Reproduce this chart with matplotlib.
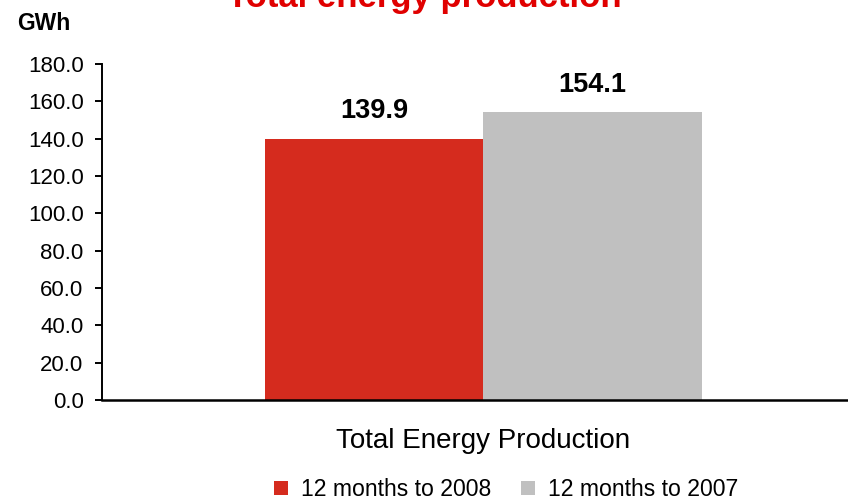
import matplotlib
matplotlib.use("Agg")
import matplotlib.pyplot as plt
import numpy as np

plt.rcParams['font.family'] = ['Liberation Sans', 'DejaVu Sans']

categories = ["Total Energy Production"]
series_names = ["12 months to 2008", "12 months to 2007"]
values_2008 = [139.9]
values_2007 = [154.1]
yticks = [0, 20, 40, 60, 80, 100, 120, 140, 160, 180]
colors = ["#D52B1E", "#C0C0C0"]

fig = plt.figure(figsize=(8.48, 5.0), dpi=100)
ax = fig.add_axes([102/848, 0.2, 1 - 102/848, 0.672])

x = np.arange(len(categories))
w = 0.3
b1 = ax.bar(x - w/2, values_2008, w, color=colors[0], label=series_names[0])
b2 = ax.bar(x + w/2, values_2007, w, color=colors[1], label=series_names[1])

for bars, vals in ((b1, values_2008), (b2, values_2007)):
    for r, v in zip(bars, vals):
        ax.annotate(f"{v:.1f}", (r.get_x() + r.get_width()/2, v), xytext=(0, 15),
                    textcoords='offset points', ha='center', va='baseline',
                    fontsize=19.5, fontweight='bold')

ax.set_ylim(0, 180)
ax.set_xlim(-0.524, 0.501)
ax.set_yticks(yticks)
ax.set_yticklabels([f"{t:.1f}" for t in yticks], fontsize=16)
ax.set_xticks(x)
ax.set_xticklabels(categories, fontsize=20)
ax.tick_params(axis='x', length=0, pad=20)
ax.tick_params(axis='y', direction='out', length=4.7, width=1.4, pad=8.6)
for s in ('top', 'right'):
    ax.spines[s].set_visible(False)
ax.spines['left'].set_linewidth(1.4)
ax.spines['bottom'].set_linewidth(1.8)

fig.text(17/848, 1 - 23.5/500, "GWh", fontsize=16.5, fontweight='bold', va='center', ha='left')
fig.text(0.5, 1 - 7/500, "Total energy production", fontsize=25, fontweight='bold',
         color='#E00000', ha='center', va='baseline')

fig.legend(loc='center', bbox_to_anchor=(506/848, 1 - 489.5/500), ncol=2, frameon=False,
           fontsize=16.6, handlelength=0.6, handleheight=0.6, handletextpad=0.56,
           columnspacing=1.3, borderpad=0, borderaxespad=0)

fig.savefig("out.png", dpi=100)
